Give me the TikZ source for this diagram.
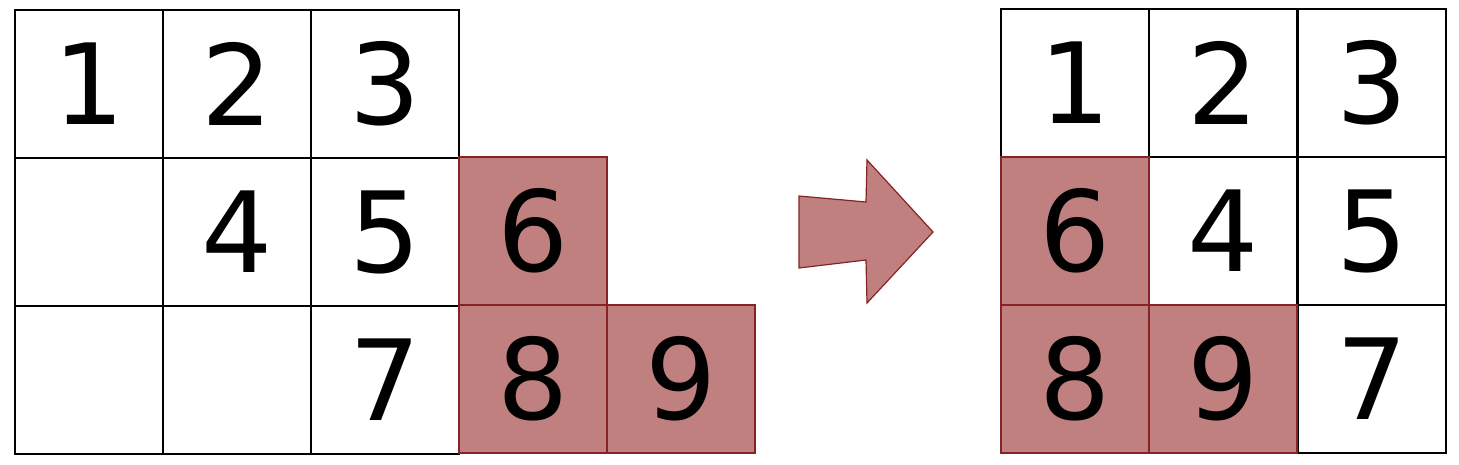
\documentclass[tikz,border=0pt]{standalone}
\usepackage{fontspec}
\setmainfont{DejaVu Sans}
\definecolor{cellred}{RGB}{193,128,128}
\definecolor{edgered}{RGB}{135,35,35}
\begin{document}
\begin{tikzpicture}[x=1pt,y=-1pt,
  cell/.style={draw=black,line width=2.6pt,minimum width=148pt,minimum height=148pt,inner sep=0pt,outer sep=0pt,
    font=\fontsize{112}{112}\selectfont,anchor=center,fill=white},
  redcell/.style={cell,fill=cellred,draw=edgered,line width=2.2pt},
  bigarrow/.style={fill=cellred,draw=edgered,line width=1.2pt,line join=miter}]
\useasboundingbox (0,0) rectangle (1459,465);
% left grid (x0=15, y0=10, size 148)
\node[cell] (l11) at (89,84) {1};
\node[cell] (l12) at (237,84) {2};
\node[cell] (l13) at (385,84) {3};
\node[cell] (l21) at (89,232) {};
\node[cell] (l22) at (237,232) {4};
\node[cell] (l23) at (385,232) {5};
\node[cell] (l31) at (89,380) {};
\node[cell] (l32) at (237,380) {};
\node[cell] (l33) at (385,380) {7};
\node[redcell] (l24) at (533,231) {6};
\node[redcell] (l34) at (533,379) {8};
\node[redcell] (l35) at (681,379) {9};
% arrow
\draw[bigarrow] (799,196) -- (866,202) -- (867,160) -- (933,232) -- (867,303) -- (866,260) -- (799,268) -- cycle;
% right grid (x0=1001, y0=9)
\node[cell] (r11) at (1075,83) {1};
\node[cell] (r12) at (1223,83) {2};
\node[cell] (r13) at (1372,83) {3};
\node[cell] (r22) at (1223,231) {4};
\node[cell] (r23) at (1372,231) {5};
\node[cell] (r33) at (1372,379) {7};
\node[redcell] (r21) at (1075,231) {6};
\node[redcell] (r31) at (1075,379) {8};
\node[redcell] (r32) at (1223,379) {9};
\end{tikzpicture}
\end{document}
